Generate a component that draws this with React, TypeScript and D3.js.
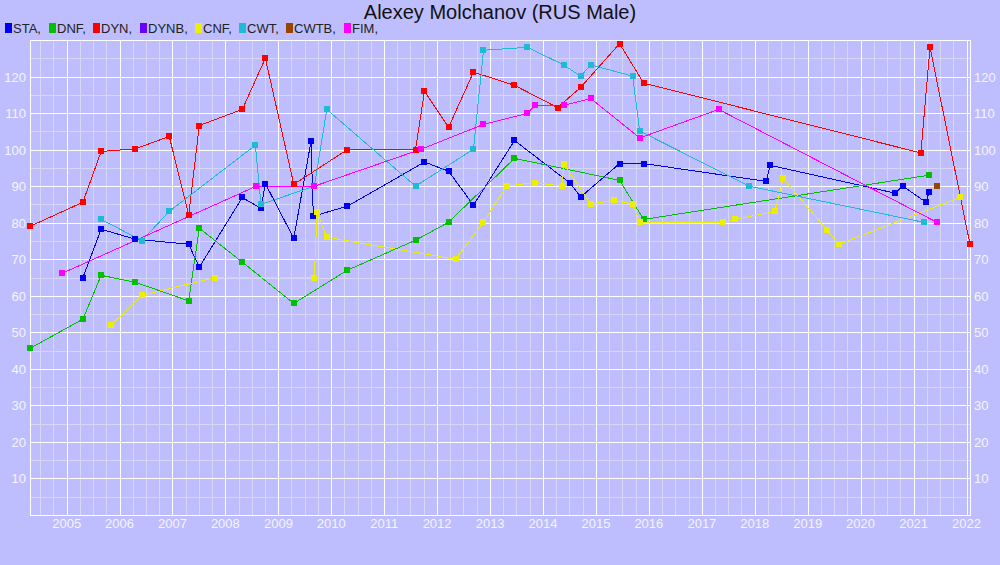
import React from 'react';
import * as d3 from 'd3';

const title = 'Alexey Molchanov (RUS Male)';
const disciplines = ['STA', 'DNF', 'DYN', 'DYNB', 'CNF', 'CWT', 'CWTB', 'FIM'];
const colors = ['#0000ee', '#00c000', '#ff0000', '#6600ff', '#eeee00', '#1fbad6', '#994400', '#ff00ff'];

// [date, metres / minutes]
const STA: [string, number][] = [
    ['2005-04-23', 65], ['2005-08-27', 78.2], ['2006-04-19', 75.5], ['2007-04-23', 74.1],
    ['2007-07-05', 67.8], ['2008-04-27', 86.9], ['2008-09-03', 83.9], ['2008-10-03', 90.7],
    ['2009-04-17', 75.7], ['2009-08-14', 102.3], ['2009-08-30', 81.8], ['2010-04-22', 84.5],
    ['2011-10-06', 96.6], ['2012-03-20', 94.1], ['2012-09-08', 84.8], ['2013-06-18', 102.5],
    ['2014-07-08', 90.8], ['2014-09-17', 87], ['2015-06-13', 96.2], ['2015-11-26', 96.2],
    ['2018-03-20', 91.3], ['2018-04-17', 95.7], ['2020-08-25', 88.1], ['2020-10-19', 90],
    ['2021-03-27', 85.6], ['2021-04-17', 88.3],
];
const DNF: [string, number][] = [
    ['2004-04-23', 45.6], ['2005-04-23', 53.6], ['2005-08-27', 65.6], ['2006-04-19', 63.7],
    ['2007-04-23', 58.6], ['2007-07-05', 78.5], ['2008-04-27', 69.2], ['2009-04-17', 57.9],
    ['2010-04-22', 67], ['2011-08-05', 75.2], ['2012-03-20', 80.1], ['2013-06-18', 97.6],
    ['2015-06-13', 91.6], ['2015-11-26', 80.9], ['2021-04-17', 93],
];
const DYN: [string, number][] = [
    ['2004-04-23', 79], ['2005-04-23', 85.6], ['2005-08-27', 99.5], ['2006-04-19', 100.2],
    ['2006-12-10', 103.6], ['2007-04-23', 82.1], ['2007-07-05', 106.6], ['2008-04-27', 111],
    ['2008-10-03', 125], ['2009-04-17', 90.5], ['2010-04-22', 100], ['2011-08-05', 100],
    ['2011-10-06', 116], ['2012-03-20', 106.1], ['2012-09-08', 121.2], ['2013-06-18', 117.6],
    ['2014-04-11', 111.5], ['2014-09-17', 117], ['2015-06-13', 129], ['2015-11-26', 118.2],
    ['2021-02-20', 99.1], ['2021-04-24', 128], ['2022-01-25', 74.1],
];
const DYNB: [string, number][] = [];
const CNF: [string, number][] = [
    ['2005-11-04', 51.9], ['2006-06-04', 60.1], ['2007-10-23', 65], ['2009-09-06', 65],
    ['2009-09-25', 83], ['2009-12-01', 76], ['2012-05-07', 70], ['2012-11-16', 80.1],
    ['2013-04-24', 90], ['2013-11-06', 91], ['2014-05-14', 90], ['2014-05-23', 96],
    ['2014-11-26', 85.1], ['2015-05-08', 86.1], ['2015-09-11', 85.1], ['2015-10-30', 80.1],
    ['2017-05-27', 80.1], ['2017-08-20', 80.9], ['2018-05-19', 83.1], ['2018-07-16', 92.1],
    ['2019-05-16', 77.9], ['2019-08-04', 74.1], ['2021-11-17', 86.9],
];
const CWT: [string, number][] = [
    ['2005-08-27', 80.9], ['2006-06-04', 75.1], ['2006-12-10', 83.1], ['2008-07-26', 101.2],
    ['2008-09-03', 85], ['2009-09-06', 90], ['2009-12-01', 111], ['2011-08-05', 90],
    ['2012-09-08', 100.1], ['2012-11-16', 127.2], ['2013-09-14', 128], ['2014-05-23', 123.2],
    ['2014-09-17', 120.1], ['2014-11-26', 123.2], ['2015-09-11', 120.1], ['2015-10-30', 105.1],
    ['2017-11-23', 90], ['2021-03-13', 80.1],
];
const CWTB: [string, number][] = [['2021-06-11', 90]];
const FIM: [string, number][] = [
    ['2004-11-29', 66.1], ['2008-08-02', 90], ['2009-09-06', 90], ['2011-09-13', 100.1],
    ['2012-11-16', 106.9], ['2013-09-14', 109.9], ['2013-11-06', 112.1], ['2014-05-23', 112.1],
    ['2014-11-26', 114], ['2015-10-30', 103.2], ['2017-04-27', 111], ['2021-06-11', 80.1],
];
const seriesData = [STA, DNF, DYN, DYNB, CNF, CWT, CWTB, FIM];
const yTicks = [10, 20, 30, 40, 50, 60, 70, 80, 90, 100, 110, 120];

const W = 1000;
const H = 565;
const margin = { top: 40, right: 30, bottom: 50, left: 30 };
const FONT = '"Liberation Sans", Arial, sans-serif';
const legendX = [5, 49, 93, 140, 195, 239, 286, 344];

const parse = d3.timeParse('%Y-%m-%d');

export default function App() {
    const series = seriesData.map(s => s.map(([d, v]) => ({ date: parse(d) as Date, value: v })));
    const allDates = series.flat().map(p => p.date);
    const x = d3.scaleTime()
        .domain(d3.extent(allDates) as [Date, Date])
        .range([margin.left, W - margin.right]);
    const y = d3.scaleLinear().domain([0, 130]).range([H - margin.bottom, margin.top]);

    const px = (v: number) => Math.round(v) + 0.5;
    const [x0, x1] = x.range();
    const [y0, y1] = y.range();

    const minorX = d3.timeMonth.every(3)!.range(x.domain()[0], x.domain()[1]);
    const majorX = x.ticks(d3.timeYear);
    const minorY = d3.range(5, 130, 5);

    const line = d3.line<{ date: Date; value: number }>()
        .x(d => x(d.date))
        .y(d => y(d.value));

    return (
        <div style={{ position: 'absolute', left: 0, top: 0, width: W, height: H }}>
            <svg width={W} height={H} style={{ display: 'block', fontFamily: FONT }}>
                <rect width={W} height={H} fill="#bebefe" />

                <text x={W / 2} y={19} textAnchor="middle" fontSize={20} fill="#111">{title}</text>

                {disciplines.map((name, i) => (
                    <g key={name} transform={`translate(${legendX[i]},23)`}>
                        <rect width={7} height={10} fill={colors[i]} />
                        <text x={8} y={10} fontSize={13} fill="#222">{name},</text>
                    </g>
                ))}

                <g shapeRendering="crispEdges">
                    {minorX.map((d, i) => (
                        <line key={'mx' + i} x1={px(x(d))} x2={px(x(d))} y1={y1} y2={y0} stroke="#d6d6f6" />
                    ))}
                    {minorY.map(v => (
                        <line key={'my' + v} x1={x0} x2={x1} y1={px(y(v))} y2={px(y(v))} stroke="#d6d6f6" />
                    ))}
                    {majorX.map((d, i) => (
                        <line key={'Mx' + i} x1={px(x(d))} x2={px(x(d))} y1={y1} y2={y0} stroke="#ffffff" />
                    ))}
                    {yTicks.map(v => (
                        <line key={'My' + v} x1={x0} x2={x1} y1={px(y(v))} y2={px(y(v))} stroke="#ffffff" />
                    ))}
                    <rect x={px(x0)} y={px(y1)} width={Math.round(x1 - x0)} height={Math.round(y0 - y1)}
                        fill="none" stroke="#ffffff" />
                </g>

                {yTicks.map(v => (
                    <g key={'yl' + v} fontSize={13} fill="#f4f4ff">
                        <text x={x0 - 4} y={y(v) + 5} textAnchor="end">{v}</text>
                        <text x={x1 + 4} y={y(v) + 5}>{v}</text>
                    </g>
                ))}
                {majorX.map((d, i) => (
                    <text key={'xl' + i} x={x(d)} y={y0 + 13} textAnchor="middle" fontSize={13} fill="#f4f4ff">
                        {d3.timeFormat('%Y')(d)}
                    </text>
                ))}

                {series.map((s, i) => s.length > 1 && (
                    <path key={'l' + i} d={line(s) || ''} fill="none" stroke={colors[i]} strokeWidth={1}
                        shapeRendering="crispEdges" />
                ))}
                {series.map((s, i) => (
                    <g key={'m' + i} fill={colors[i]} shapeRendering="crispEdges">
                        {s.map((p, j) => (
                            <rect key={j} x={Math.round(x(p.date)) - 3} y={Math.round(y(p.value)) - 3} width={6} height={6} />
                        ))}
                    </g>
                ))}
            </svg>
        </div>
    );
}
